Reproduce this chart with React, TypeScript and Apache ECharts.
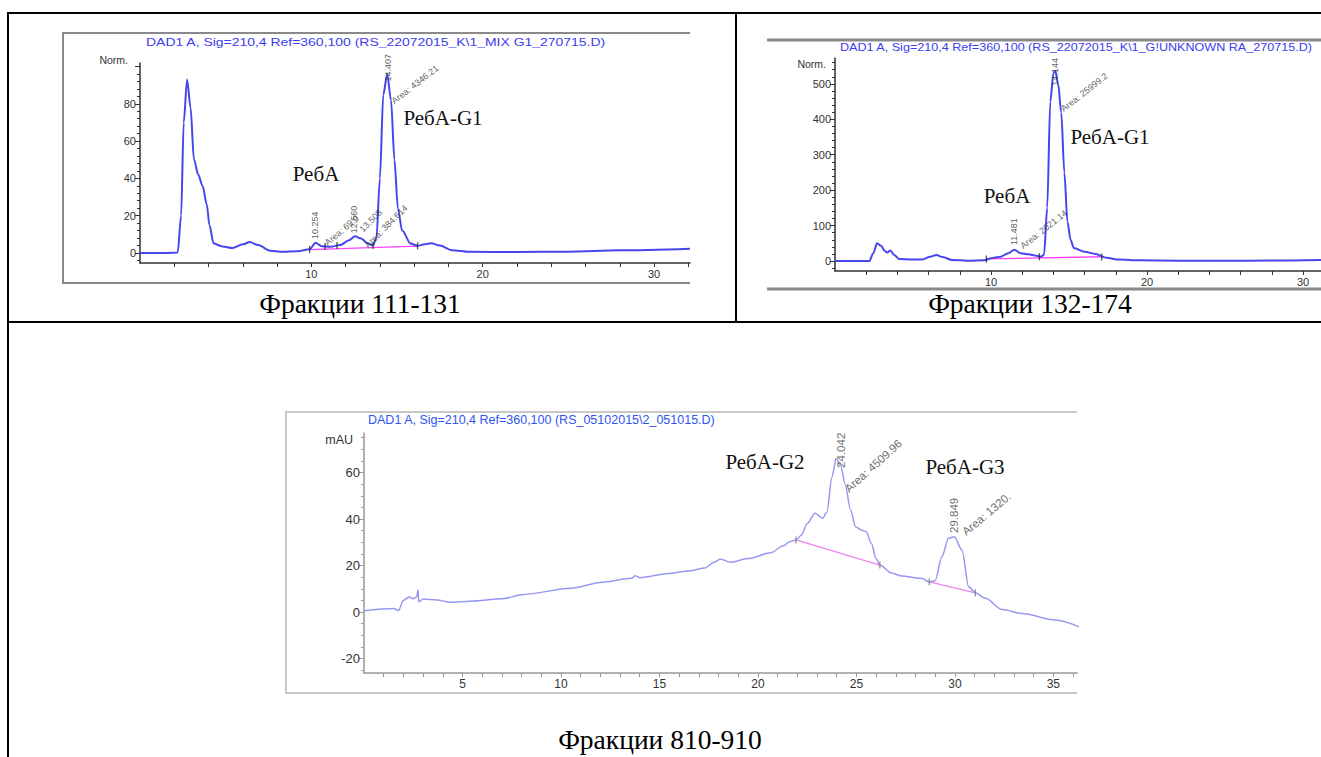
import React, { useEffect, useRef } from "react";
import * as echarts from "echarts";

// ---------- Chromatogram 1: Фракции 111-131 ----------
const C1: number[][] = [
  [0, 0], [1.5, 0], [2.2, 0.3], [2.4, 20], [2.55, 70], [2.75, 93], [2.95, 78], [3.15, 50], [3.4, 42],
  [3.65, 36], [3.9, 26], [4.05, 15], [4.3, 5], [4.8, 3.5], [5.4, 2.6], [6.0, 4.6], [6.4, 5.8], [6.9, 4.2],
  [7.6, 1.2], [8.3, 0.6], [9.2, 0.9], [9.9, 2], [10.25, 5.4], [10.6, 3.6], [11.1, 3.3], [11.7, 4.3],
  [12.2, 6.8], [12.55, 9], [12.9, 7.8], [13.3, 5], [13.6, 4], [13.8, 8], [14.0, 40], [14.2, 85],
  [14.43, 96], [14.65, 82], [14.85, 50], [15.05, 24], [15.3, 12], [15.8, 5], [16.2, 3.8], [16.6, 4.6],
  [17.0, 5.2], [17.5, 4], [18.2, 1.5], [19.2, 0.6], [22, 0.5], [25, 0.7], [28, 1.4], [32.1, 2.3],
];
const C1_BASE: number[][] = [[9.9, 1.8], [16.2, 3.7]];
const C1_MARKS: number[][] = [[9.9, 1.9], [10.8, 3.5], [11.5, 4], [13.6, 4], [16.2, 3.8]];
const C1_NOTES = [
  { name: "10.254", x: 10.2, y: 7.5, rot: 90 },
  { name: "Area: 69.0", x: 10.85, y: 5, rot: 40 },
  { name: "12.560", x: 12.5, y: 10.5, rot: 90 },
  { name: "13.508", x: 12.9, y: 12, rot: 45 },
  { name: "Area: 384.614", x: 13.2, y: 3.5, rot: 45 },
  { name: "14.407", x: 14.45, y: 92, rot: 90 },
  { name: "Area: 4346.21", x: 14.75, y: 81, rot: 38 },
];
const X1_LABELS = [10, 20, 30];
const Y1_LABELS = [0, 20, 40, 60, 80];

// ---------- Chromatogram 2: Фракции 132-174 ----------
const C2: number[][] = [
  [0, 0], [2.2, 0], [2.45, 22], [2.7, 50], [2.95, 43], [3.2, 28], [3.35, 24], [3.55, 30], [3.8, 17],
  [4.1, 6], [5.0, 4], [5.6, 4.5], [6.1, 12], [6.5, 17], [6.9, 11], [7.5, 3], [8.5, 1], [9.6, 2],
  [10.0, 8], [10.6, 12], [11.1, 22], [11.5, 32], [11.9, 22], [12.4, 19], [12.9, 15], [13.2, 12],
  [13.4, 18], [13.6, 150], [13.8, 450], [14.0, 530], [14.12, 537], [14.3, 500], [14.5, 420],
  [14.7, 250], [14.9, 110], [15.1, 60], [15.3, 37], [16.0, 26], [16.7, 20], [17.4, 9], [18.2, 4],
  [19.5, 2], [22, 1], [25, 0.5], [28, 1.5], [31.15, 3],
];
const C2_BASE: number[][] = [[9.7, 6], [17.1, 12]];
const C2_MARKS: number[][] = [[9.7, 6], [13.1, 12], [17.1, 11]];
const C2_NOTES = [
  { name: "11.481", x: 11.5, y: 45, rot: 90 },
  { name: "Area: 2021.14", x: 11.95, y: 40, rot: 38 },
  { name: "14.144", x: 14.1, y: 495, rot: 90 },
  { name: "Area: 25999.2", x: 14.55, y: 427, rot: 38 },
];
const X2_LABELS = [10, 20, 30];
const Y2_LABELS = [0, 100, 200, 300, 400, 500];

// ---------- Chromatogram 3: Фракции 810-910 ----------
const C3: number[][] = [
  [0, 0.6], [1.5, 1.5], [1.75, 0.7], [2.0, 5], [2.3, 6.5], [2.5, 5.7], [2.68, 6.6], [2.74, 9.5],
  [2.78, 4.4], [3.0, 5.6], [3.7, 5.2], [4.4, 4.2], [5.4, 4.7], [7.0, 5.7], [8.1, 7.6], [10.5, 10.2],
  [12.1, 12.8], [13.6, 14.5], [13.76, 15.6], [14.0, 14.8], [15.5, 16.6], [16.6, 17.8], [17.3, 19],
  [17.8, 21.5], [18.1, 22.8], [18.6, 21.4], [19.5, 23], [20.65, 25.5], [21.3, 28.5], [21.6, 30.2],
  [21.93, 31], [22.2, 33], [22.5, 38], [22.9, 42.5], [23.29, 40.3], [23.5, 43], [23.76, 58],
  [23.97, 66], [24.2, 63], [24.43, 55], [24.7, 44], [24.96, 36.7], [25.25, 35.3], [25.5, 34.5],
  [25.76, 29.5], [26.0, 23], [26.19, 20.2], [26.78, 16.8], [27.3, 15.5], [28.3, 14.5], [28.7, 13],
  [29.0, 13.5], [29.34, 23.8], [29.68, 31.7], [29.97, 32.4], [30.36, 26.7], [30.7, 10.9], [31.04, 8.3],
  [31.55, 5.9], [32.4, 1.1], [33.4, -0.6], [35.1, -3.4], [36.3, -6.3],
];
const C3_BASE_A: number[][] = [[21.93, 31], [26.19, 20.2]];
const C3_BASE_B: number[][] = [[28.7, 13], [31.04, 8.3]];
const C3_MARKS: number[][] = [[21.93, 31], [26.19, 20.2], [28.7, 13], [31.04, 8.3]];
const C3_NOTES = [
  { name: "24.042", x: 24.2, y: 62, rot: 90 },
  { name: "Area: 4509.96", x: 24.5, y: 52.5, rot: 42 },
  { name: "29.849", x: 29.93, y: 34, rot: 90 },
  { name: "Area: 1320.", x: 30.45, y: 34, rot: 40 },
];
const X3_LABELS = [5, 10, 15, 20, 25, 30, 35];
const Y3_LABELS = [-20, 0, 20, 40, 60];

const CAPTIONS = ["Фракции 111-131", "Фракции 132-174", "Фракции 810-910"];

function steps(a: number, b: number, s: number): number[] {
  const r: number[] = [];
  for (let v = a; v <= b + 1e-9; v += s) r.push(Math.round(v * 1000) / 1000);
  return r;
}

function xAxis(grid: number, max: number, ticks: number[], labels: number[], color: string, fs: number) {
  return {
    type: "value", gridIndex: grid, min: 0, max,
    axisLine: { show: true, onZero: false, lineStyle: { color, width: 1.5 } },
    axisTick: { show: true, customValues: ticks, length: 4, lineStyle: { color, width: 1 } },
    axisLabel: { customValues: labels, color: "#333", fontSize: fs, fontFamily: "Liberation Sans", margin: 5 },
    splitLine: { show: false },
  };
}
function yAxis(grid: number, min: number, max: number, ticks: number[], labels: number[], color: string, fs: number) {
  return {
    type: "value", gridIndex: grid, min, max, position: "left",
    axisLine: { show: true, onZero: false, lineStyle: { color, width: 1.5 } },
    axisTick: { show: true, customValues: ticks, length: 5, lineStyle: { color, width: 1 } },
    axisLabel: { customValues: labels, color: "#333", fontSize: fs, fontFamily: "Liberation Sans", margin: 4 },
    splitLine: { show: false },
  };
}
function yMinor(grid: number, min: number, max: number, ticks: number[], color: string) {
  return {
    type: "value", gridIndex: grid, min, max, position: "left",
    axisLine: { show: false }, axisLabel: { show: false }, splitLine: { show: false },
    axisTick: { show: true, customValues: ticks, length: 3, lineStyle: { color, width: 1 } },
  };
}

function trace(xi: number, yi: number, data: number[][], color: string, width: number) {
  return {
    type: "line", xAxisIndex: xi, yAxisIndex: yi, data, showSymbol: false, smooth: 0.3,
    smoothMonotone: "x", lineStyle: { color, width }, z: 3,
  };
}
function base(xi: number, yi: number, data: number[][], color: string) {
  return { type: "line", xAxisIndex: xi, yAxisIndex: yi, data, showSymbol: false, lineStyle: { color, width: 1.3 }, z: 2 };
}
function marks(xi: number, yi: number, data: number[][], color: string) {
  return {
    type: "scatter", xAxisIndex: xi, yAxisIndex: yi, data, symbol: "rect", symbolSize: [1.3, 7],
    itemStyle: { color }, z: 4,
  };
}
function notes(xi: number, yi: number, list: { name: string; x: number; y: number; rot: number }[], fs: number, color: string) {
  return {
    type: "scatter", xAxisIndex: xi, yAxisIndex: yi, symbolSize: 0, z: 5,
    data: list.map((n) => ({ name: n.name, value: [n.x, n.y], label: { rotate: n.rot } })),
    label: {
      show: true, formatter: "{b}", position: [0, 0], align: "left", verticalAlign: "middle",
      fontSize: fs, fontFamily: "Liberation Sans", color,
    },
  };
}

const serif = "Liberation Serif";
function txt(x: number, y: number, text: string, fs: number, fill: string, family: string, align = "center", scaleX = 1) {
  return {
    type: "text", x, y, scaleX, z: 10,
    style: { text, fill, fontSize: fs, fontFamily: family, textAlign: align, textVerticalAlign: "middle" },
  };
}
function ln(x1: number, y1: number, x2: number, y2: number, stroke: string, w: number) {
  return { type: "line", z: 1, shape: { x1, y1, x2, y2 }, style: { stroke, lineWidth: w } };
}

export default function App() {
  const ref = useRef<HTMLDivElement>(null);
  useEffect(() => {
    if (!ref.current) return;
    const chart = echarts.init(ref.current, undefined, { renderer: "svg" });
    const option: any = {
      animation: false,
      backgroundColor: "#fff",
      grid: [
        { left: 140, top: 63, width: 550, height: 200 },
        { left: 835, top: 58, width: 486, height: 213 },
        { left: 364, top: 433, width: 713, height: 240 },
      ],
      xAxis: [
        xAxis(0, 32.1, steps(2, 32, 2), X1_LABELS, "#333", 11),
        xAxis(1, 31.15, steps(2, 30, 2), X2_LABELS, "#333", 11),
        xAxis(2, 36.2, steps(1, 36, 1), X3_LABELS, "#999", 12),
      ],
      yAxis: [
        yAxis(0, -5.4, 101.9, steps(0, 100, 20), Y1_LABELS, "#333", 11),
        yMinor(0, -5.4, 101.9, steps(-4, 100, 4).filter((v) => v % 20 !== 0), "#333"),
        yAxis(1, -28.2, 573, steps(0, 500, 100), Y2_LABELS, "#333", 11),
        yMinor(1, -28.2, 573, steps(-20, 560, 20).filter((v) => v % 100 !== 0), "#333"),
        yAxis(2, -26.2, 77, steps(-20, 60, 20), Y3_LABELS, "#999", 13),
        yMinor(2, -26.2, 77, steps(-25, 75, 5).filter((v) => v % 20 !== 0), "#999"),
      ],
      series: [
        base(0, 0, C1_BASE, "#ff40ff"),
        trace(0, 0, C1, "#4646ee", 2),
        marks(0, 0, C1_MARKS, "#222"),
        notes(0, 0, C1_NOTES, 9, "#333"),
        base(1, 2, C2_BASE, "#ff40ff"),
        trace(1, 2, C2, "#4646ee", 2),
        marks(1, 2, C2_MARKS, "#222"),
        notes(1, 2, C2_NOTES, 9, "#333"),
        base(2, 4, C3_BASE_A, "#f080f0"),
        base(2, 4, C3_BASE_B, "#f080f0"),
        trace(2, 4, C3, "#9898f2", 1.5),
        marks(2, 4, C3_MARKS, "#777"),
        notes(2, 4, C3_NOTES, 11.5, "#444"),
      ],
      graphic: [
        // table borders
        ln(7, 13, 1321, 13, "#000", 2),
        ln(8, 12, 8, 757, "#000", 2),
        ln(736, 12, 736, 323, "#000", 2),
        ln(7, 322, 1321, 322, "#000", 2),
        // chart frames
        { type: "polyline", z: 1, shape: { points: [[690, 33], [63, 33], [63, 283], [690, 283]] }, style: { stroke: "#8a8a8a", lineWidth: 2, fill: null } },
        ln(767, 40, 1321, 40, "#8a8a8a", 3),
        ln(767, 289, 1321, 289, "#8a8a8a", 3),
        { type: "polyline", z: 1, shape: { points: [[1077, 412], [286, 412], [286, 693], [1077, 693]] }, style: { stroke: "#c8c8c8", lineWidth: 2, fill: null } },
        // titles
        txt(146, 43, "DAD1 A, Sig=210,4 Ref=360,100 (RS_22072015_K\\1_MIX G1_270715.D)", 10.5, "#3c3cf0", "Liberation Sans", "left", 1.33),
        txt(840, 47, "DAD1 A, Sig=210,4 Ref=360,100 (RS_22072015_K\\1_G!UNKNOWN RA_270715.D)", 10.5, "#3c3cf0", "Liberation Sans", "left", 1.2),
        txt(368, 420, "DAD1 A, Sig=210,4 Ref=360,100 (RS_05102015\\2_051015.D)", 12.5, "#2e55f0", "Liberation Sans", "left", 1),
        // units
        txt(128, 60, "Norm.", 10.5, "#333", "Liberation Sans", "right"),
        txt(826, 64, "Norm.", 10.5, "#333", "Liberation Sans", "right"),
        txt(353, 440, "mAU", 12.5, "#333", "Liberation Sans", "right"),
        // compound labels
        txt(316, 174, "РебА", 21, "#111", serif),
        txt(443, 118, "РебА-G1", 21, "#111", serif),
        txt(1007, 196, "РебА", 21, "#111", serif),
        txt(1110, 137, "РебА-G1", 21, "#111", serif),
        txt(765, 462, "РебА-G2", 21, "#111", serif),
        txt(965, 467, "РебА-G3", 21, "#111", serif),
        // captions
        txt(360, 303, CAPTIONS[0], 27.5, "#000", serif),
        txt(1030, 303, CAPTIONS[1], 27.5, "#000", serif),
        txt(660, 739, CAPTIONS[2], 27.5, "#000", serif),
      ],
    };
    chart.setOption(option);
    return () => chart.dispose();
  }, []);
  return (
    <div
      ref={ref}
      style={{ position: "fixed", left: 0, top: 0, width: 1321, height: 757, background: "#fff" }}
    />
  );
}
